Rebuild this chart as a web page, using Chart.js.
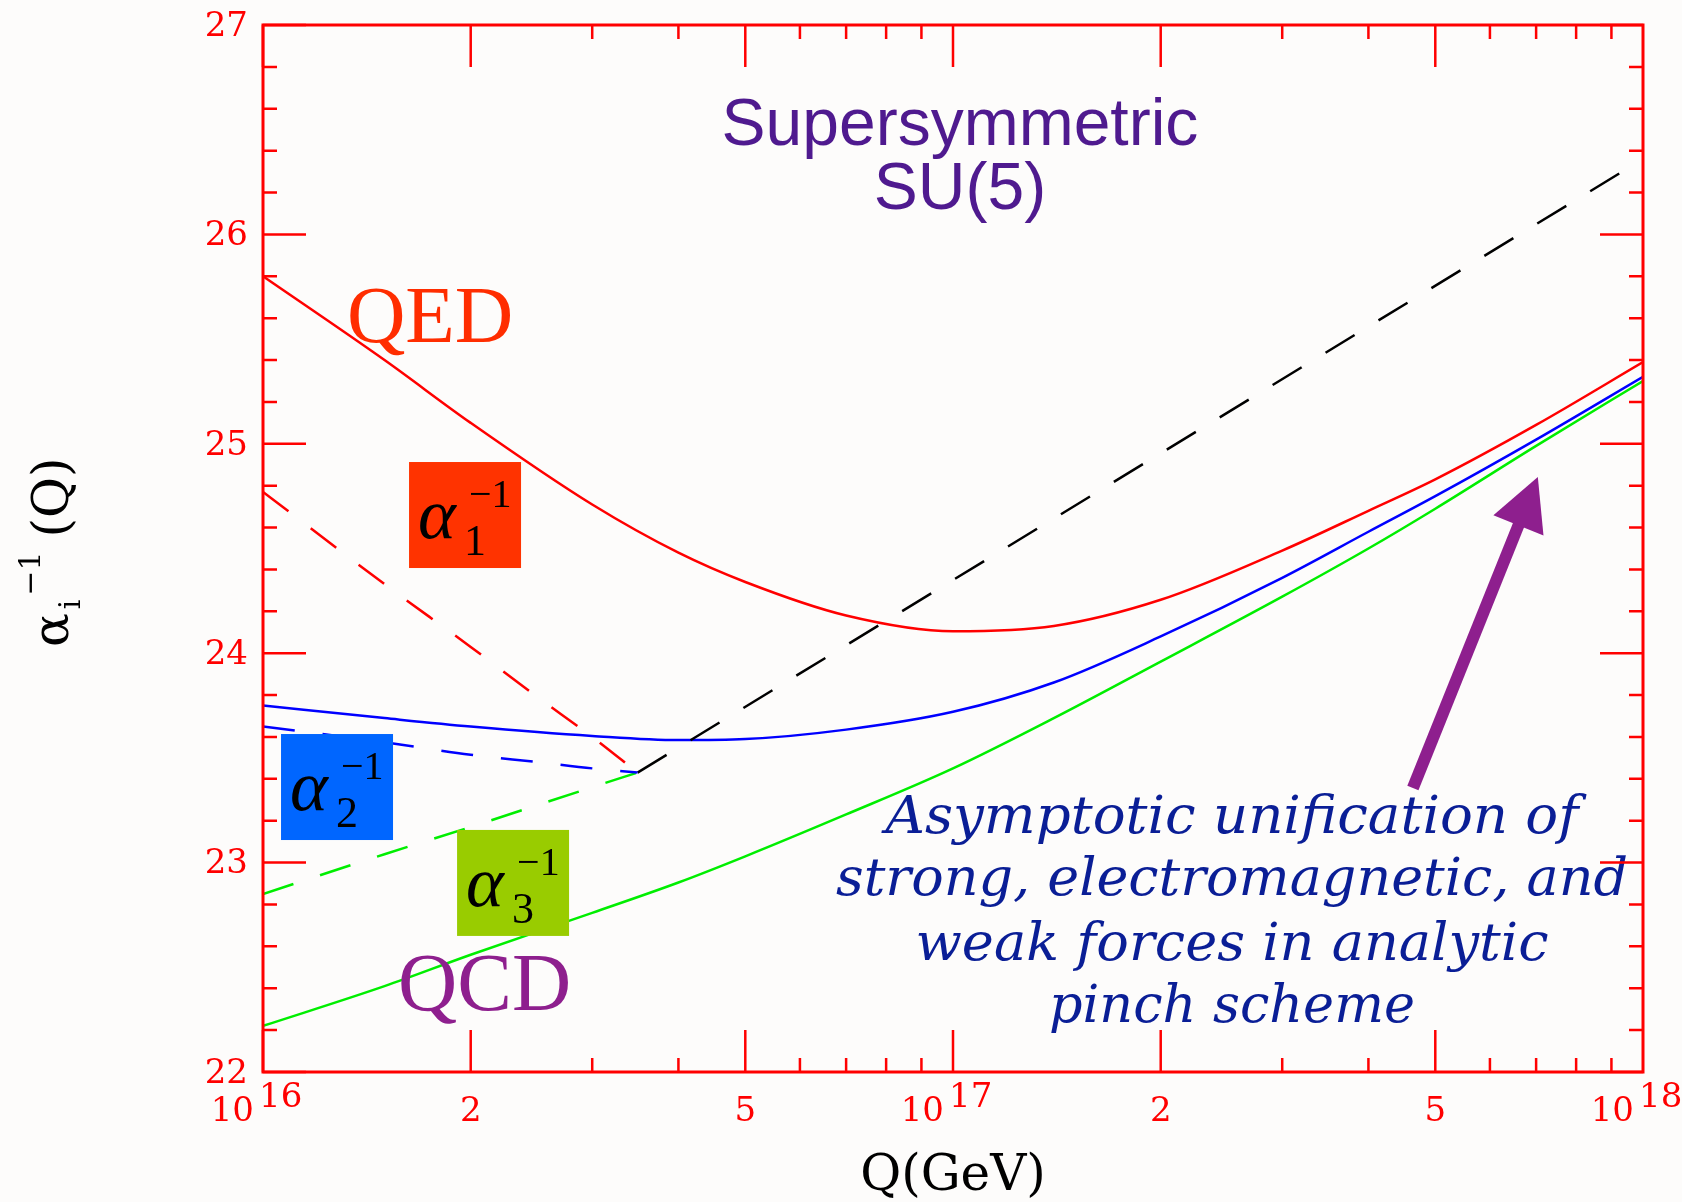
<!DOCTYPE html>
<html>
<head>
<meta charset="utf-8">
<script src="https://cdn.jsdelivr.net/npm/chart.js@4.4.1/dist/chart.umd.min.js"></script>
<style>
  html, body { margin: 0; padding: 0; background: #fdfcfb; }
  canvas { display: block; }
</style>
</head>
<body>
<canvas id="chart" width="1682" height="1202"></canvas>
<script>
// Q in GeV, couplings
const qSolid = [1e16, 1.5e16, 2e16, 3e16, 4e16, 5e16, 7e16, 1e17, 1.4e17, 2e17, 3e17, 4e17, 5e17, 7e17, 1e18];
const alpha1 = [25.80, 25.40, 25.10, 24.71, 24.48, 24.34, 24.18, 24.105, 24.13, 24.255, 24.49, 24.68, 24.83, 25.09, 25.39];
const alpha2 = [23.75, 23.69, 23.65, 23.605, 23.585, 23.59, 23.635, 23.72, 23.86, 24.08, 24.36, 24.58, 24.75, 25.02, 25.32];
const alpha3 = [22.22, 22.41, 22.56, 22.76, 22.905, 23.03, 23.23, 23.45, 23.69, 23.96, 24.27, 24.50, 24.69, 24.99, 25.30];

// standard-model-like running below the meeting point (dashed)
const qLow = [1e16, 1.5e16, 2e16, 2.5e16, 3e16, 3.49e16];
const alpha1Low = [24.77, 24.33, 24.03, 23.79, 23.60, 23.43];
const alpha2Low = [23.65, 23.575, 23.515, 23.48, 23.45, 23.43];
const alpha3Low = [22.85, 23.04, 23.17, 23.275, 23.36, 23.43];

// unified coupling (black dashed)
const qUnif = [3.49e16, 1e18];
const alphaUnif = [23.43, 26.36];

// axis tick labels
const yTickLabels = [22, 23, 24, 25, 26, 27];
const xTickValues = [1e16, 2e16, 5e16, 1e17, 2e17, 5e17, 1e18];
const xTickBase = ['10', '2', '5', '10', '2', '5', '10'];
const xTickExp = ['16', '', '', '17', '', '', '18'];

const noteLines = ['Asymptotic unification of', 'strong, electromagnetic, and', 'weak forces in analytic', 'pinch scheme'];

function pts(qs, vs) {
  return qs.map((q, i) => ({ x: q, y: vs[i] }));
}

function line(data, color, dash) {
  return {
    data: data,
    borderColor: color,
    borderWidth: 2.5,
    borderDash: dash || [],
    pointRadius: 0,
    fill: false,
    cubicInterpolationMode: 'monotone'
  };
}

const RED = '#ff0000';

// draws text squeezed/stretched to a given width
function fitText(ctx, str, cx, baseline, width) {
  const w = ctx.measureText(str).width;
  ctx.save();
  ctx.translate(cx, baseline);
  ctx.scale(width / w, 1);
  ctx.textAlign = 'center';
  ctx.fillText(str, 0, 0);
  ctx.restore();
}

function alphaBox(ctx, x0, y0, color, idx) {
  ctx.fillStyle = color;
  ctx.fillRect(x0, y0, 112, 106);
  ctx.fillStyle = '#000';
  ctx.textAlign = 'left';
  ctx.textBaseline = 'alphabetic';
  ctx.font = 'italic 72px "Liberation Serif"';
  ctx.fillText('\u03b1', x0 + 9, y0 + 76);
  ctx.font = '44px "Liberation Serif"';
  ctx.fillText(idx, x0 + 55, y0 + 93);
  ctx.font = '40px "Liberation Serif"';
  ctx.fillText('\u22121', x0 + 60, y0 + 45);
}

const annotations = {
  id: 'annotations',
  afterDatasetsDraw(chart) {
    const { ctx, scales: { x, y } } = chart;
    const px = q => x.getPixelForValue(q);
    const py = v => y.getPixelForValue(v);
    ctx.save();

    // title
    ctx.fillStyle = '#4f1a8f';
    ctx.font = '66px "Liberation Sans"';
    ctx.textAlign = 'center';
    ctx.textBaseline = 'alphabetic';
    ctx.fillText('Supersymmetric', px(1.0235e17), py(26.427));
    ctx.fillText('SU(5)', px(1.0235e17), py(26.121));

    // QED / QCD
    ctx.textAlign = 'left';
    ctx.font = '81px "Liberation Serif"';
    ctx.fillStyle = '#ff2d00';
    ctx.fillText('QED', px(1.323e16), py(25.486));
    ctx.font = '82px "Liberation Serif"';
    ctx.fillStyle = '#8e1f8e';
    ctx.fillText('QCD', px(1.569e16), py(22.296));

    // coupling boxes
    alphaBox(ctx, px(1.628e16), py(24.913), '#ff3300', '1');
    alphaBox(ctx, px(1.062e16), py(23.614), '#0066ff', '2');
    alphaBox(ctx, px(1.911e16), py(23.156), '#99cc00', '3');

    // note
    ctx.fillStyle = '#0a1e96';
    ctx.font = 'italic 52px "DejaVu Serif"';
    const noteX = px(2.537e17);
    const noteBase = [23.141, 22.845, 22.535, 22.239];
    const noteW = [693, 792, 633, 366];
    noteLines.forEach((s, i) => fitText(ctx, s, noteX, py(noteBase[i]), noteW[i]));

    // arrow
    const tx = px(4.64e17), ty = py(23.356);
    const hx = px(7.04e17), hy = py(24.841);
    const len = Math.hypot(hx - tx, hy - ty);
    const ux = (hx - tx) / len, uy = (hy - ty) / len;
    const bx = hx - ux * 52, by = hy - uy * 52;
    ctx.strokeStyle = '#8e1f8e';
    ctx.fillStyle = '#8e1f8e';
    ctx.lineWidth = 12;
    ctx.beginPath();
    ctx.moveTo(tx, ty);
    ctx.lineTo(bx + ux * 4, by + uy * 4);
    ctx.stroke();
    ctx.beginPath();
    ctx.moveTo(hx, hy);
    ctx.lineTo(bx - uy * 27, by + ux * 27);
    ctx.lineTo(bx + uy * 27, by - ux * 27);
    ctx.closePath();
    ctx.fill();

    ctx.restore();
  },
  afterDraw(chart) {
    const { ctx, chartArea: a, scales: { x, y } } = chart;
    ctx.save();
    ctx.strokeStyle = RED;
    ctx.lineCap = 'butt';

    // ticks on all four sides
    ctx.lineWidth = 2.5;
    ctx.beginPath();
    for (let i = 0; i <= 25; i++) {
      const v = 22 + i * 0.2;
      const yy = y.getPixelForValue(v);
      const len = i % 5 === 0 ? 43 : 14;
      ctx.moveTo(a.left, yy); ctx.lineTo(a.left + len, yy);
      ctx.moveTo(a.right, yy); ctx.lineTo(a.right - len, yy);
    }
    for (let d = 16; d <= 17; d++) {
      for (let m = 1; m <= 9; m++) {
        const xx = x.getPixelForValue(m * Math.pow(10, d));
        const len = (m === 1 || m === 2 || m === 5) ? 42 : 14;
        ctx.moveTo(xx, a.bottom); ctx.lineTo(xx, a.bottom - len);
        ctx.moveTo(xx, a.top); ctx.lineTo(xx, a.top + len);
      }
    }
    ctx.stroke();

    // frame
    ctx.lineWidth = 3;
    ctx.strokeRect(a.left, a.top, a.right - a.left, a.bottom - a.top);

    // tick labels
    ctx.fillStyle = RED;
    ctx.font = '34px "DejaVu Serif"';
    ctx.textAlign = 'right';
    ctx.textBaseline = 'middle';
    yTickLabels.forEach(v => ctx.fillText(String(v), a.left - 15, y.getPixelForValue(v) + 2));

    ctx.textBaseline = 'alphabetic';
    xTickValues.forEach((v, i) => {
      const xx = x.getPixelForValue(v);
      if (xTickExp[i]) {
        ctx.textAlign = 'right';
        ctx.fillText(xTickBase[i], xx - 9, 1121);
        ctx.textAlign = 'left';
        ctx.fillText(xTickExp[i], xx - 4, 1107);
      } else {
        ctx.textAlign = 'center';
        ctx.fillText(xTickBase[i], xx, 1121);
      }
    });

    // axis titles
    ctx.fillStyle = '#000';
    ctx.font = '50px "DejaVu Serif"';
    ctx.textAlign = 'center';
    ctx.fillText('Q(GeV)', (a.left + a.right) / 2, 1190);

    ctx.translate(68, 550);
    ctx.rotate(-Math.PI / 2);
    ctx.textAlign = 'left';
    let u = -97;
    ctx.font = '50px "DejaVu Serif"';
    ctx.fillText('\u03b1', u, 0);
    u += ctx.measureText('\u03b1').width + 4;
    ctx.font = '30px "DejaVu Serif"';
    ctx.fillText('i', u, 12);
    u += ctx.measureText('i').width + 4;
    ctx.fillText('\u22121', u, -28);
    u += ctx.measureText('\u22121').width + 14;
    ctx.font = '50px "DejaVu Serif"';
    ctx.fillText('(Q)', u, 0);

    ctx.restore();
  }
};

new Chart(document.getElementById('chart'), {
  type: 'line',
  data: {
    datasets: [
      line(pts(qLow, alpha1Low), '#ff0000', [32, 28]),
      line(pts(qLow, alpha2Low), '#0000ff', [32, 28]),
      line(pts(qLow, alpha3Low), '#00ee00', [32, 28]),
      line(pts(qUnif, alphaUnif), '#000000', [34, 28]),
      line(pts(qSolid, alpha1), '#ff0000'),
      line(pts(qSolid, alpha2), '#0000ff'),
      line(pts(qSolid, alpha3), '#00ee00')
    ]
  },
  options: {
    responsive: false,
    animation: false,
    layout: { padding: { left: 263, top: 25, right: 39, bottom: 130 } },
    plugins: { legend: { display: false }, tooltip: { enabled: false } },
    scales: {
      x: { type: 'logarithmic', min: 1e16, max: 1e18, display: false },
      y: { type: 'linear', min: 22, max: 27, display: false }
    }
  },
  plugins: [annotations]
});
</script>
</body>
</html>
